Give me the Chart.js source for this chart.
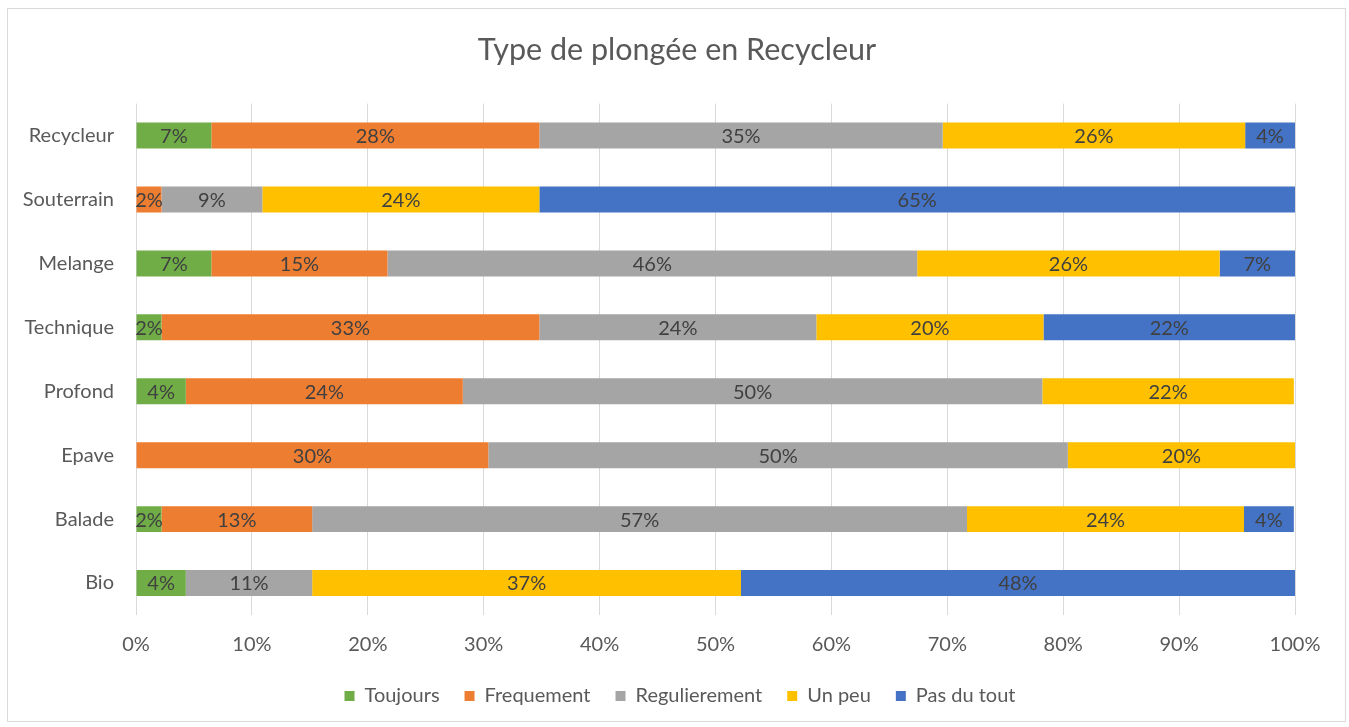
<!DOCTYPE html>
<html>
<head>
<meta charset="utf-8">
<script src="https://cdn.jsdelivr.net/npm/chart.js@4.4.1/dist/chart.umd.min.js"></script>
<style>
html,body{margin:0;padding:0;background:#fff;}
#wrap{position:absolute;left:0;top:0;width:1349px;height:727px;}
</style>
</head>
<body>
<div id="wrap"><canvas id="c" width="1349" height="727"></canvas></div>
<script>
const categories = ['Recycleur','Souterrain','Melange','Technique','Profond','Epave','Balade','Bio'];
const seriesNames = ['Toujours','Frequement','Regulierement','Un peu','Pas du tout'];
const toujours      = [6.5, 0,    6.5,  2.2,  4.3,  0,    2.2,  4.3];
const frequement    = [28.3, 2.2, 15.2, 32.6, 23.9, 30.4, 13.0, 0];
const regulierement = [34.8, 8.7, 45.7, 23.9, 50.0, 50.0, 56.5, 10.9];
const unPeu         = [26.1, 23.9, 26.1, 19.6, 21.7, 19.6, 23.9, 37.0];
const pasDuTout     = [4.3, 65.2, 6.5,  21.7, 0,    0,    4.3,  47.8];
const xTicks = [0,10,20,30,40,50,60,70,80,90,100];
const colors = ['#70AD47','#ED7D31','#A5A5A5','#FFC000','#4472C4'];
const FONT = 'Lato, "Open Sans", sans-serif';

const allSeries = [toujours, frequement, regulierement, unPeu, pasDuTout];

const borderPlugin = {
  id:'border',
  beforeDraw(chart){
    const ctx = chart.ctx;
    ctx.save();
    ctx.fillStyle='#fff';
    ctx.fillRect(0,0,chart.width,chart.height);
    ctx.strokeStyle='#d9d9d9';
    ctx.lineWidth=1;
    ctx.strokeRect(7.5,8.5,1338,713);
    ctx.restore();
  }
};

const boxFix = {
  id:'boxFix',
  start(chart){
    const lg = chart.legend;
    if (lg && !lg._patched) {
      const orig = lg.fit;
      lg.fit = function(){ orig.call(this); this.height = 54; };
      lg._patched = true;
    }
  },
  afterLayout(chart){
    const lg = chart.legend;
    if (lg) { lg.left = 15; lg.right = 1345; lg.width = 1330; if (lg.adjustHitBoxes) lg.adjustHitBoxes(); }
    const tb = chart.titleBlock;
    if (tb) { tb.left = 9; tb.right = 1345; tb.width = 1336; }
  }
};

const labelPlugin = {
  id:'barLabels',
  afterDatasetsDraw(chart){
    const ctx = chart.ctx;
    ctx.save();
    ctx.font = '20px ' + FONT;
    ctx.fillStyle = '#404040';
    ctx.textAlign = 'center';
    ctx.textBaseline = 'middle';
    chart.data.datasets.forEach((ds, di) => {
      const meta = chart.getDatasetMeta(di);
      meta.data.forEach((el, i) => {
        const v = ds.data[i];
        if (!v) return;
        const p = el.getProps(['x','y','base'], true);
        const cx = (p.x + p.base) / 2;
        ctx.fillText(Math.round(v) + '%', cx, p.y + 1);
      });
    });
    ctx.restore();
  }
};

new Chart(document.getElementById('c'), {
  type:'bar',
  data:{
    labels: categories,
    datasets: allSeries.map((d, i) => ({
      label: seriesNames[i],
      data: d,
      backgroundColor: colors[i],
      borderWidth: 0,
      barPercentage: 0.406,
      categoryPercentage: 1.0
    }))
  },
  options:{
    indexAxis:'y',
    responsive:false,
    animation:false,
    devicePixelRatio:1,
    layout:{padding:{left:0, right:54, top:10, bottom:12}},
    scales:{
      x:{
        stacked:true,
        min:0, max:100,
        afterBuildTicks(scale){ scale.ticks = xTicks.map(v => ({value:v})); },
        afterFit(scale){ scale.height = 46; },
        ticks:{ callback: v => v + '%', color:'#595959', font:{family:FONT, size:20}, padding:18, maxRotation:0 },
        grid:{ color:'#d9d9d9', lineWidth:1, drawTicks:false },
        border:{ display:false }
      },
      y:{
        stacked:true,
        afterFit(scale){ scale.width = 136; },
        ticks:{ color:'#595959', font:{family:FONT, size:20}, padding:22 },
        grid:{ display:false, drawTicks:false },
        border:{ display:false }
      }
    },
    plugins:{
      title:{ display:true, text:'Type de plongée en Recycleur', color:'#595959', font:{family:FONT, size:30.5, weight:'normal'}, padding:{top:22, bottom:35} },
      legend:{ position:'bottom', labels:{ boxWidth:10, boxHeight:10, color:'#595959', font:{family:FONT, size:20}, padding:25 } },
      tooltip:{ enabled:false }
    }
  },
  plugins:[borderPlugin, boxFix, labelPlugin]
});
</script>
</body>
</html>
